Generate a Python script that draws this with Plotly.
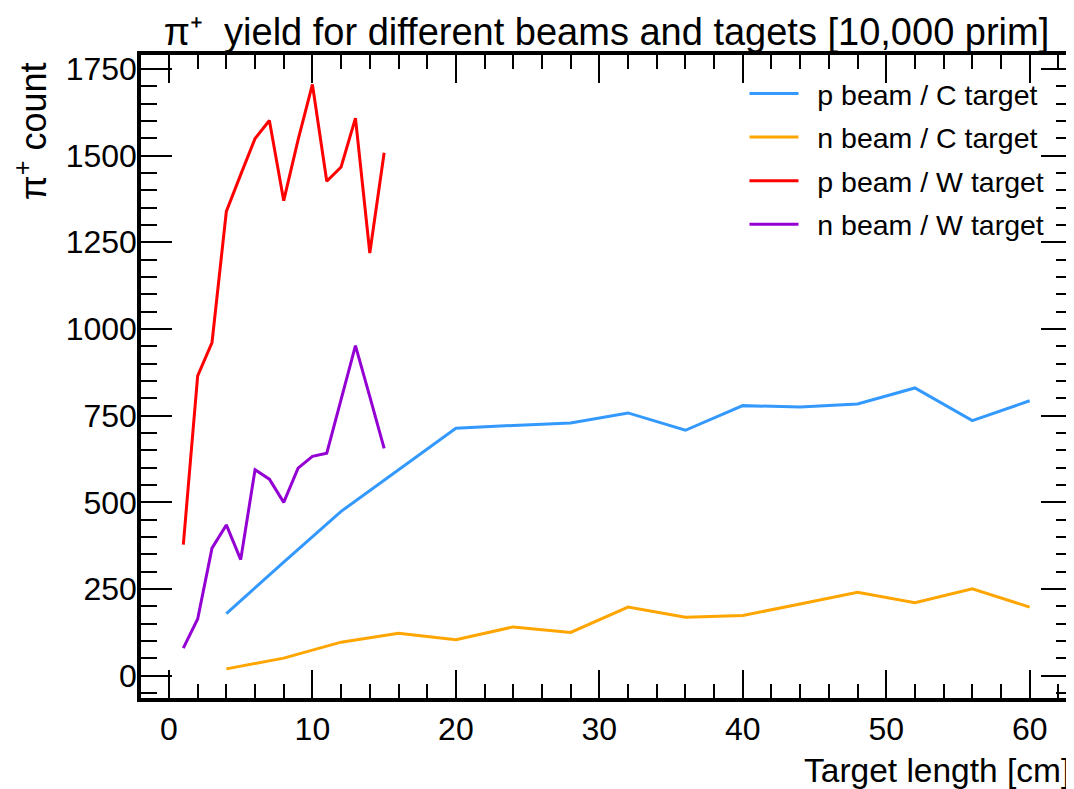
import plotly.graph_objects as go

# ---- data ----
x_w = [1, 2, 3, 4, 5, 6, 7, 8, 9, 10, 11, 12, 13, 14, 15]
p_beam_w = [378, 865, 961, 1339, 1445, 1549, 1601, 1370, 1545, 1705, 1426, 1467, 1608, 1219, 1508]
n_beam_w = [80, 164, 368, 435, 335, 594, 567, 500, 599, 633, 642, 797, 952, 805, 656]

x_c = [4, 8, 12, 16, 20, 24, 28, 32, 36, 40, 44, 48, 52, 56, 60]
p_beam_c = [179, 328, 474, 594, 714, 722, 729, 758, 708, 779, 775, 784, 830, 736, 793]
n_beam_c = [20, 51, 97, 123, 104, 141, 125, 198, 169, 174, 207, 241, 211, 251, 198]

series = [
    ("p beam / C target", x_c, p_beam_c, "#3399FF"),
    ("n beam / C target", x_c, n_beam_c, "#FFA500"),
    ("p beam / W target", x_w, p_beam_w, "#FF0000"),
    ("n beam / W target", x_w, n_beam_w, "#9400D3"),
]

FONT = "Liberation Sans, Arial, Helvetica, sans-serif"

# The page body has an 8px default margin, so the figure is 8px smaller
# than the window and its margins are reduced accordingly.
W, H = 1066, 781
L, T, R, B = 133, 47, 2, 91
PW, PH = W - L - R, H - T - B  # plot area size (931 x 643)

fig = go.Figure()
for i, (name, xs, ys, col) in enumerate(series):
    fig.add_trace(go.Scatter(x=xs, y=ys, mode="lines",
                             name="\u2009\u2009\u200a" + name,
                             legendgroup=f"g{i}",
                             line=dict(color=col, width=3)))

axis_common = dict(
    showgrid=False, zeroline=False, showline=True, linecolor="black",
    linewidth=3.5, mirror="allticks", ticks="inside", tickcolor="black",
    tickwidth=2, automargin=False,
    tickfont=dict(size=32, color="black", family=FONT),
)

fig.update_layout(
    width=W, height=H,
    margin=dict(l=L, r=R, t=T, b=B, pad=0, autoexpand=False),
    paper_bgcolor="white", plot_bgcolor="white",
    font=dict(family=FONT, color="black"),
    title=dict(text="π\u207a\u00a0 yield for different beams and tagets [10,000 prim]",
               x=0.5, xref="paper", xanchor="center",
               y=1 - 24 / H, yanchor="middle", automargin=False,
               font=dict(size=38, color="black", family=FONT)),
    xaxis=dict(range=[-1.95, 62.95], tick0=0, dtick=10, ticklen=28,
               ticklabelstandoff=0,
               minor=dict(dtick=2, ticklen=14, ticks="inside", tickcolor="black", tickwidth=2),
               **axis_common),
    yaxis=dict(range=[-64, 1790], tick0=0, dtick=250, ticklen=31,
               ticklabelstandoff=-6,
               minor=dict(dtick=50, ticklen=16, ticks="inside", tickcolor="black", tickwidth=2),
               **axis_common),
    legend=dict(x=0.6482, y=0.979, xanchor="left", yanchor="top",
                bgcolor="rgba(0,0,0,0)", borderwidth=0,
                font=dict(size=28.5, color="black", family=FONT),
                tracegroupgap=3.5, itemwidth=49),
    showlegend=True,
)

fig.add_annotation(text="π<sup>+</sup> count", textangle=-90,
                   xref="paper", yref="paper", x=(31 - 141) / PW, y=0.992,
                   xanchor="center", yanchor="top", showarrow=False,
                   font=dict(size=36, color="black", family=FONT))
fig.add_annotation(text="Target length [cm]",
                   xref="paper", yref="paper", x=1.0, y=-72 / PH,
                   xanchor="right", yanchor="middle", showarrow=False,
                   font=dict(size=33.5, color="black", family=FONT))

fig.write_html("out.html")
